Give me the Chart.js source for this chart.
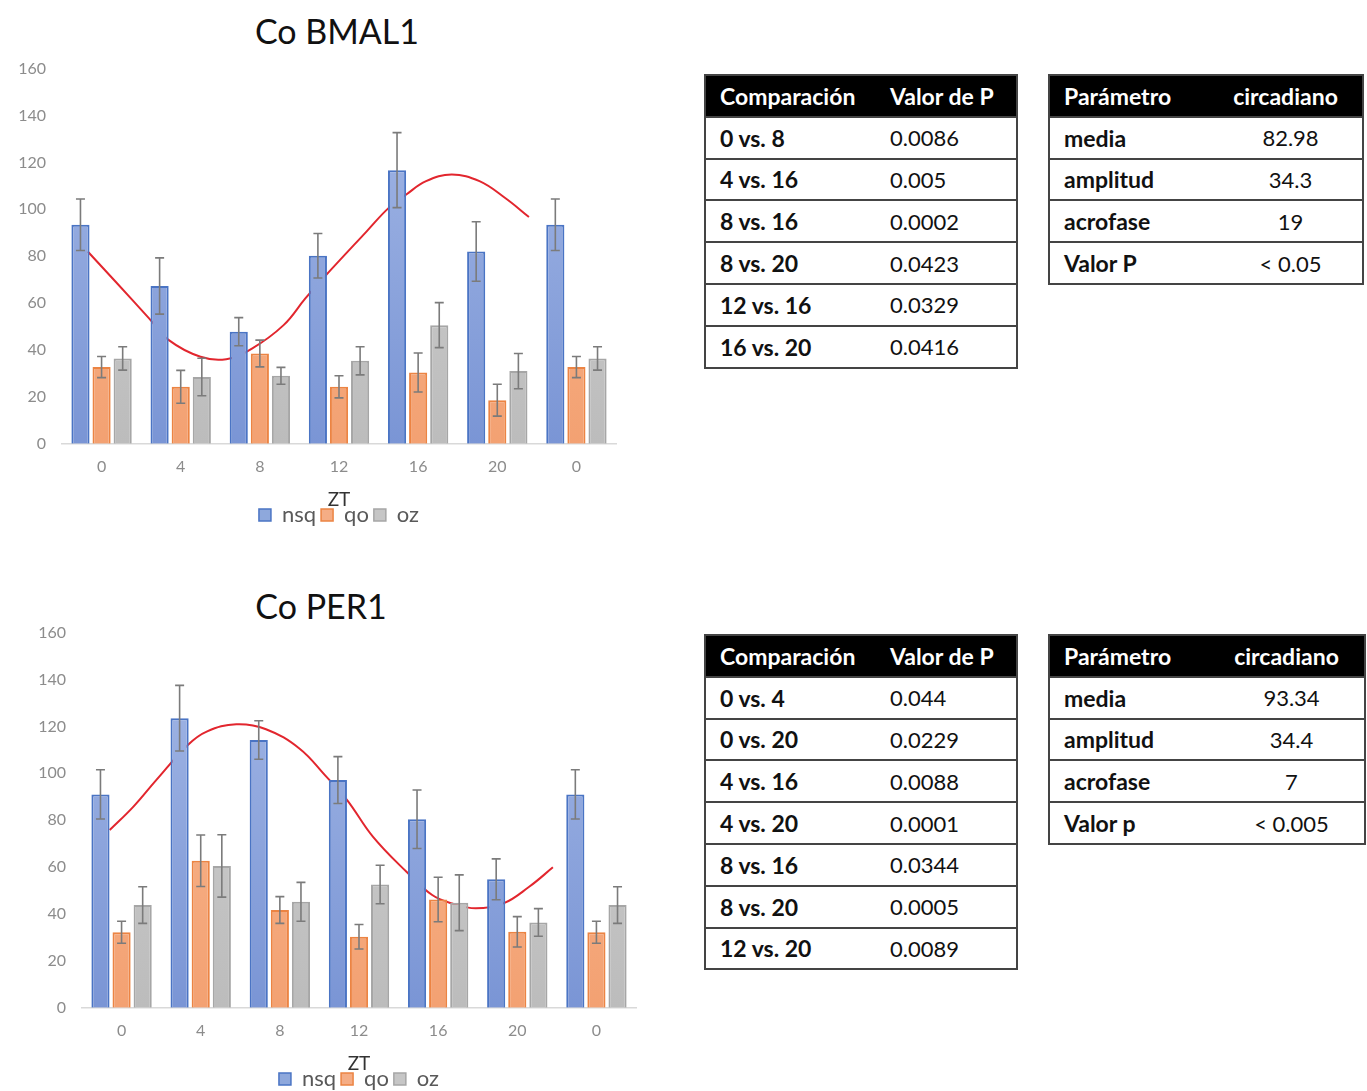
<!DOCTYPE html>
<html lang="es">
<head>
<meta charset="utf-8">
<title>Co BMAL1 / Co PER1</title>
<script src="https://cdn.jsdelivr.net/npm/chart.js@4.4.1/dist/chart.umd.min.js"></script>
<style>
  html, body { margin: 0; padding: 0; background: #ffffff; }
  body { position: relative; width: 1367px; height: 1091px; overflow: hidden; font-family: Lato, "Open Sans", sans-serif; }
  .title { position: absolute; width: 300px; text-align: center; font-size: 34px; color: #111; line-height: 40px; }
  .box { position: absolute; width: 678px; height: 493px; }
  table { position: absolute; border-collapse: collapse; color: #111; border: 2px solid #444; }
  td, th { border: none; border-bottom: 2px solid #444; height: 39.8px; padding: 0 0 0 14px; text-align: left; vertical-align: middle; }
  th { background: #000; color: #fff; font-weight: 700; font-size: 23px; border-bottom-color: #444; }
  td.k { font-weight: 700; font-size: 23px; }
  td.v { font-size: 22px; }
  table.par td.v { text-align: center; padding: 0; }
  table.par th.v { text-align: center; padding: 0 10px 0 0; }
</style>
</head>
<body>

<div class="title" style="left:187px; top:11px;">Co BMAL1</div>
<div class="box" style="left:0px; top:43px;"><canvas id="bmal"></canvas></div>

<div class="title" style="left:171px; top:586px;">Co PER1</div>
<div class="box" style="left:20px; top:607px;"><canvas id="per"></canvas></div>

<script>
// ZT sampling points (hours) and the labels shown under them
const ztHours = [0, 4, 8, 12, 16, 20, 24];
const zt = ['0', '4', '8', '12', '16', '20', '0'];
const seriesNames = ['nsq', 'qo', 'oz'];

// Co BMAL1: means and error (SEM) per group
const bmalNsq = [93.4, 67.3, 47.8, 80.2, 116.7, 82.0, 93.4];
const bmalNsqErr = [11.0, 12.0, 6.0, 9.5, 16.0, 12.7, 11.0];
const bmalQo = [32.7, 24.3, 38.5, 24.3, 30.4, 18.6, 32.7];
const bmalQoErr = [4.5, 7.0, 5.7, 4.7, 8.3, 6.8, 4.5];
const bmalOz = [36.4, 28.5, 29.0, 35.4, 50.6, 31.0, 36.4];
const bmalOzErr = [5.0, 8.0, 3.6, 6.0, 9.6, 7.5, 5.0];
// Co BMAL1 cosinor curve (hour, value)
const bmalFitHour = [-0.7, 0.7, 2.4, 3.4, 5.0, 6.3, 7.6, 9.2, 10.3, 11.2, 13.4, 14.5, 15.4, 16.4, 17.7, 19.1, 20.4, 21.6];
const bmalFitValue = [82.0, 69.2, 53.5, 44.2, 37.1, 36.1, 40.6, 50.6, 62.0, 70.6, 90.6, 100.5, 106.3, 112.0, 114.8, 112.0, 104.8, 96.7];

// Co PER1: means and error per group
const perNsq = [91.0, 123.5, 114.2, 97.1, 80.4, 54.8, 91.0];
const perNsqErr = [10.5, 14.0, 8.2, 10.0, 12.5, 8.7, 10.5];
const perQo = [32.2, 62.7, 41.7, 30.3, 46.2, 32.4, 32.2];
const perQoErr = [4.7, 11.0, 5.7, 5.2, 9.5, 6.5, 4.7];
const perOz = [43.8, 60.5, 45.2, 52.6, 44.8, 36.4, 43.8];
const perOzErr = [7.8, 13.3, 8.3, 8.2, 11.9, 5.9, 7.8];
// Co PER1 cosinor curve (hour, value)
const perFitHour = [-0.6, 0.6, 1.75, 3.35, 4.3, 5.8, 7.3, 9.0, 10.3, 11.4, 12.7, 14.4, 15.7, 16.7, 17.9, 19.3, 20.6, 21.8];
const perFitValue = [75.8, 85.8, 97.1, 112.1, 117.8, 120.9, 118.8, 110.5, 99.0, 88.6, 73.0, 58.0, 48.1, 44.5, 42.4, 44.5, 51.6, 59.9];

// y-axis ticks
const yTicks = [0, 20, 40, 60, 80, 100, 120, 140, 160];

// Tables
const tableHeadComp = ['Comparación', 'Valor de P'];
const tableHeadPar = ['Parámetro', 'circadiano'];
const bmalComparisons = ['0 vs. 8', '4 vs. 16', '8 vs. 16', '8 vs. 20', '12 vs. 16', '16 vs. 20'];
const bmalPValues = ['0.0086', '0.005', '0.0002', '0.0423', '0.0329', '0.0416'];
const bmalParams = ['media', 'amplitud', 'acrofase', 'Valor P'];
const bmalParamValues = ['82.98', '34.3', '19', '< 0.05'];
const perComparisons = ['0 vs. 4', '0 vs. 20', '4 vs. 16', '4 vs. 20', '8 vs. 16', '8 vs. 20', '12 vs. 20'];
const perPValues = ['0.044', '0.0229', '0.0088', '0.0001', '0.0344', '0.0005', '0.0089'];
const perParams = ['media', 'amplitud', 'acrofase', 'Valor p'];
const perParamValues = ['93.34', '34.4', '7', '< 0.005'];

const palette = {
  nsq: { top: '#a4b8e6', bottom: '#7a95d5', border: '#4a74c4', swatch: '#8ea8dc' },
  qo:  { top: '#f9bb96', bottom: '#f3a172', border: '#ec8443', swatch: '#f5ad85' },
  oz:  { top: '#d2d2d2', bottom: '#bcbcbc', border: '#a6a6a6', swatch: '#c6c6c6' }
};

function gradientFill(c) {
  return (ctx) => {
    const area = ctx.chart.chartArea;
    if (!area) return c.bottom;
    const g = ctx.chart.ctx.createLinearGradient(0, area.top, 0, area.bottom);
    g.addColorStop(0, c.top);
    g.addColorStop(1, c.bottom);
    return g;
  };
}

// Error bars with caps, drawn over the bars
const errorBars = {
  id: 'errorBars',
  afterDatasetsDraw(chart) {
    const ctx = chart.ctx;
    const y = chart.scales.y;
    chart.data.datasets.forEach((ds, di) => {
      if (!ds.errors) return;
      const meta = chart.getDatasetMeta(di);
      meta.data.forEach((bar, i) => {
        const v = ds.data[i].y, e = ds.errors[i];
        const yt = y.getPixelForValue(v + e);
        const yb = y.getPixelForValue(v - e);
        ctx.save();
        ctx.strokeStyle = '#7b7b7b';
        ctx.lineWidth = 1.6;
        ctx.beginPath();
        ctx.moveTo(bar.x, yt); ctx.lineTo(bar.x, yb);
        ctx.moveTo(bar.x - 4.5, yt); ctx.lineTo(bar.x + 4.5, yt);
        ctx.moveTo(bar.x - 4.5, yb); ctx.lineTo(bar.x + 4.5, yb);
        ctx.stroke();
        ctx.restore();
      });
    });
  }
};

// Center the legend under the plot area rather than the whole canvas
const legendUnderPlot = {
  id: 'legendUnderPlot',
  afterLayout(chart) {
    const lg = chart.legend;
    if (!lg) return;
    lg.left = chart.chartArea.left;
    lg.right = chart.chartArea.right;
    lg.width = lg.right - lg.left;
  }
};

function barSet(name, values, errors, order) {
  const c = palette[name];
  return {
    type: 'bar', label: name, order,
    data: values.map((v, i) => ({ x: ztHours[i], y: v })),
    errors,
    backgroundColor: gradientFill(c), borderColor: c.border, borderWidth: 2,
    categoryPercentage: 0.8, barPercentage: 0.86
  };
}

function makeChart(id, nsq, nsqErr, qo, qoErr, oz, ozErr, fitHour, fitValue) {
  const fit = fitHour.map((h, i) => ({ x: h, y: fitValue[i] }));
  return new Chart(document.getElementById(id), {
    type: 'bar',
    data: {
      datasets: [
        barSet('nsq', nsq, nsqErr, 1),
        barSet('qo', qo, qoErr, 2),
        barSet('oz', oz, ozErr, 3),
        {
          type: 'line', label: 'cosinor', data: fit, order: 10,
          borderColor: '#e2262e', borderWidth: 2,
          pointRadius: 0, tension: 0.4, fill: false
        }
      ]
    },
    options: {
      responsive: true, maintainAspectRatio: false, animation: false,
      layout: { padding: { top: 4, right: 62, left: 0, bottom: 0 } },
      plugins: {
        tooltip: { enabled: false },
        legend: {
          position: 'bottom',
          labels: {
            boxWidth: 12, boxHeight: 12, padding: 5,
            color: '#595959', font: { family: 'Lato', size: 22, lineHeight: 1.0 },
            generateLabels: () => seriesNames.map((n) => ({
              text: n, fillStyle: palette[n].swatch, strokeStyle: palette[n].border,
              lineWidth: 1.5, hidden: false, fontColor: '#595959'
            }))
          }
        }
      },
      scales: {
        x: {
          type: 'linear', min: -2, max: 26, offset: false,
          grid: { display: false, drawTicks: false },
          border: { display: true, color: '#d9d9d9', width: 1.5 },
          afterBuildTicks: (s) => { s.ticks = ztHours.map((v) => ({ value: v })); },
          ticks: {
            color: '#8c8c8c', padding: 13, font: { family: 'Lato', size: 16 },
            callback: (v) => zt[ztHours.indexOf(v)]
          },
          title: { display: true, text: 'ZT', color: '#333333', font: { family: 'Lato', size: 19, lineHeight: 1.0 }, padding: { top: 1, bottom: -10 } }
        },
        y: {
          min: yTicks[0], max: yTicks[yTicks.length - 1],
          grid: { display: false, drawTicks: false },
          border: { display: false },
          afterFit: (s) => { s.width = 62; },
          afterBuildTicks: (s) => { s.ticks = yTicks.map((v) => ({ value: v })); },
          ticks: { color: '#8c8c8c', padding: 16, font: { family: 'Lato', size: 16 } }
        }
      }
    },
    plugins: [errorBars, legendUnderPlot]
  });
}

makeChart('bmal', bmalNsq, bmalNsqErr, bmalQo, bmalQoErr, bmalOz, bmalOzErr, bmalFitHour, bmalFitValue);
makeChart('per', perNsq, perNsqErr, perQo, perQoErr, perOz, perOzErr, perFitHour, perFitValue);

// Statistics tables
function buildTable(cls, left, top, widths, head, keys, values) {
  const t = document.createElement('table');
  t.className = cls;
  t.style.left = left + 'px';
  t.style.top = top + 'px';
  const cg = document.createElement('colgroup');
  widths.forEach((w) => { const c = document.createElement('col'); c.style.width = w + 'px'; cg.appendChild(c); });
  t.appendChild(cg);
  const hr = document.createElement('tr');
  head.forEach((h, i) => {
    const th = document.createElement('th');
    th.textContent = h;
    if (i === 1) th.className = 'v';
    hr.appendChild(th);
  });
  t.appendChild(hr);
  keys.forEach((k, i) => {
    const tr = document.createElement('tr');
    const a = document.createElement('td'); a.className = 'k'; a.textContent = k;
    const b = document.createElement('td'); b.className = 'v'; b.textContent = values[i];
    tr.appendChild(a); tr.appendChild(b);
    t.appendChild(tr);
  });
  document.body.appendChild(t);
}

buildTable('comp', 704, 74, [171, 141], tableHeadComp, bmalComparisons, bmalPValues);
buildTable('par', 1048, 74, [170, 144], tableHeadPar, bmalParams, bmalParamValues);
buildTable('comp', 704, 634, [171, 141], tableHeadComp, perComparisons, perPValues);
buildTable('par', 1048, 634, [170, 146], tableHeadPar, perParams, perParamValues);
</script>
</body>
</html>
